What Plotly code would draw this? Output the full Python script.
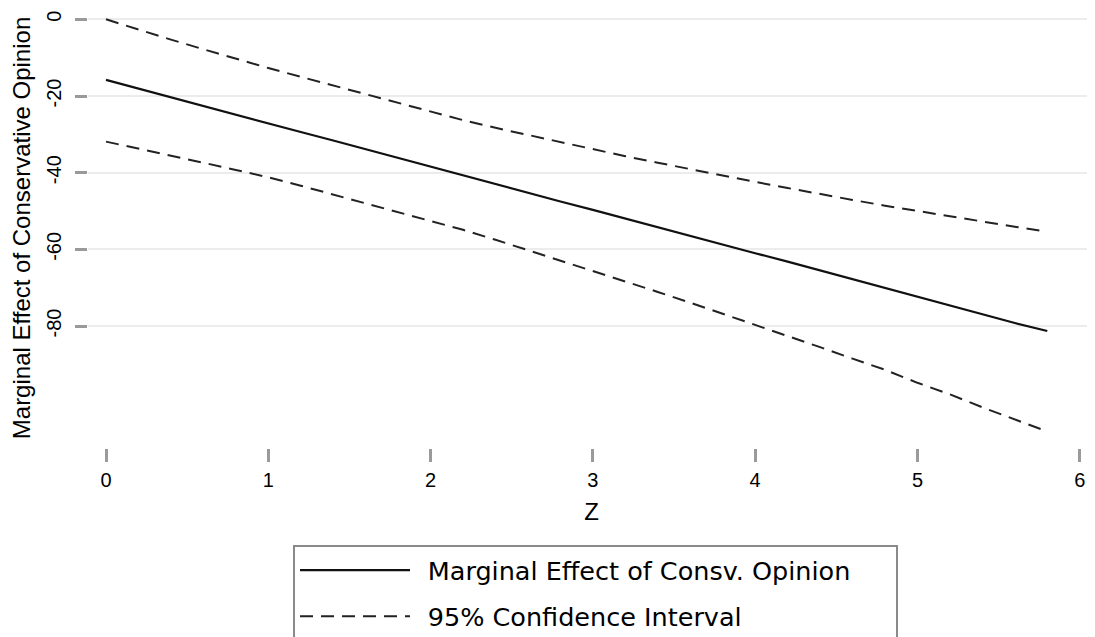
import plotly.graph_objects as go

# Data
z_values = [0.0, 0.2, 0.4, 0.6, 0.8, 1.0, 1.2, 1.4, 1.6, 1.8,
            2.0, 2.2, 2.4, 2.6, 2.8, 3.0, 3.2, 3.4, 3.6, 3.8,
            4.0, 4.2, 4.4, 4.6, 4.8, 5.0, 5.2, 5.4, 5.6, 5.8]
marginal_effect = [-15.8, -18.1, -20.4, -22.6, -24.9, -27.1, -29.4, -31.6, -33.9, -36.2,
                   -38.4, -40.6, -42.9, -45.2, -47.5, -49.7, -52.0, -54.3, -56.5, -58.8,
                   -61.0, -63.2, -65.5, -67.8, -70.0, -72.4, -74.6, -77.0, -79.2, -81.3]
ci_upper = [0.0, -2.7, -5.3, -7.8, -10.3, -12.7, -15.0, -17.3, -19.6, -21.9,
            -24.2, -26.3, -28.3, -30.2, -32.1, -33.9, -35.7, -37.4, -39.1, -40.8,
            -42.4, -44.0, -45.6, -47.1, -48.6, -50.0, -51.4, -52.8, -54.1, -55.4]
ci_lower = [-31.9, -33.7, -35.6, -37.4, -39.3, -41.2, -43.4, -45.7, -48.0, -50.3,
            -52.7, -54.9, -57.5, -60.2, -62.9, -65.5, -68.3, -71.1, -73.9, -76.8,
            -79.6, -82.4, -85.5, -88.5, -91.4, -94.8, -97.8, -101.2, -104.3, -107.5]

x_ticks = [0, 1, 2, 3, 4, 5, 6]
y_ticks = [0, -20, -40, -60, -80]
y_tick_labels = ["0", "-20", "-40", "-60", "-80"]

legend_main = "Marginal Effect of Consv. Opinion"
legend_ci = "95% Confidence Interval"

FONT = "Liberation Sans, Arial, Helvetica, sans-serif"
LEGEND_FONT = "DejaVu Sans, Verdana, sans-serif"

# page body has an 8px margin: figure origin sits at (8, 8) in the window
FIG_W, FIG_H = 1087, 629
M_L, M_T, M_B = 80, 0, 189
PLOT_W = FIG_W - M_L
PLOT_H = FIG_H - M_T - M_B

LEAD = "\u2002"          # small gap between legend sample and text
TRAIL = "\u00a0" * 5     # widen the legend box on the right

fig = go.Figure()
fig.add_trace(go.Scatter(
    x=z_values, y=marginal_effect, mode="lines",
    name=LEAD + legend_main + TRAIL,
    line=dict(color="#111111", width=2.2),
    legendgroup="a",
))
fig.add_trace(go.Scatter(
    x=z_values, y=ci_upper, mode="lines",
    name=LEAD + legend_ci,
    line=dict(color="#222222", width=2, dash="13px,8px"),
    legendgroup="b",
))
fig.add_trace(go.Scatter(
    x=z_values, y=ci_lower, mode="lines",
    name=legend_ci,
    line=dict(color="#222222", width=2, dash="13px,8px"),
    legendgroup="b", showlegend=False,
))

fig.update_layout(
    width=FIG_W, height=FIG_H,
    margin=dict(l=M_L, r=0, t=M_T, b=M_B, autoexpand=False),
    paper_bgcolor="white", plot_bgcolor="white",
    font=dict(family=FONT, color="#000000", size=20),
    showlegend=True,
    legend=dict(
        x=(285 - M_L) / PLOT_W, y=(PLOT_H - 537) / PLOT_H,
        xanchor="left", yanchor="top",
        bordercolor="#8a8a8a", borderwidth=2,
        bgcolor="white",
        font=dict(family=LEGEND_FONT, size=25.5, color="#000000"),
        itemwidth=110,
        tracegroupgap=10,
    ),
    xaxis=dict(
        range=[-0.111, 6.094],
        tickmode="array", tickvals=x_ticks,
        ticks="outside", ticklen=13, tickwidth=2.5, tickcolor="#9a9a9a",
        showgrid=False, zeroline=False, showline=False,
        tickfont=dict(size=20),
        ticklabelstandoff=1,
        title=dict(text="Z", font=dict(size=24), standoff=13),
    ),
    yaxis=dict(
        range=[-111.8, 2.95],
        tickmode="array", tickvals=y_ticks, ticktext=y_tick_labels,
        tickangle=-90,
        ticks="outside", ticklen=12, tickwidth=2.5, tickcolor="#9a9a9a",
        showgrid=True, gridcolor="#ececec", gridwidth=2,
        zeroline=False, showline=False,
        tickfont=dict(size=20),
        ticklabelstandoff=6,
        title=dict(text="Marginal Effect of Conservative Opinion", font=dict(size=24), standoff=8),
    ),
)

fig.write_html("out.html")
